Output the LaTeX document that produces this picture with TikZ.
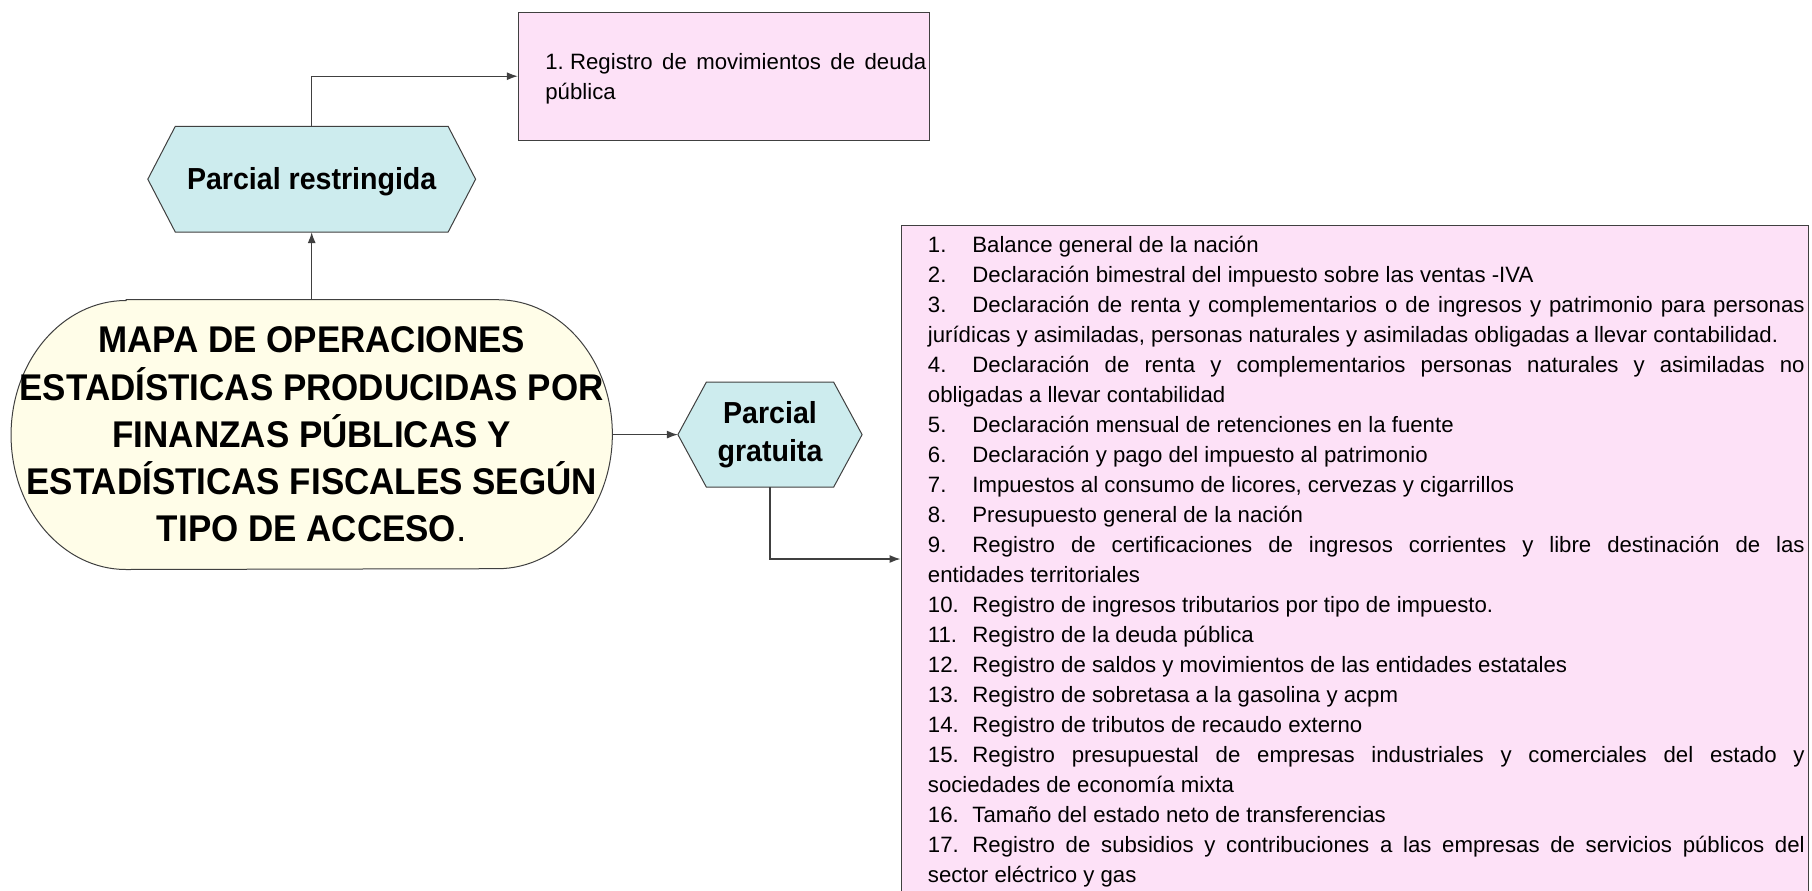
\documentclass[tikz,border=0pt]{standalone}
\usepackage{fontspec}
\setmainfont{Liberation Sans}[BoldFeatures={FakeStretch=0.94}]
\usetikzlibrary{arrows.meta,backgrounds}
\definecolor{pinkfill}{HTML}{FDE1F7}
\definecolor{cyanfill}{HTML}{CDECEE}
\definecolor{creamfill}{HTML}{FFFDE8}
\definecolor{edgecol}{HTML}{404040}
\newcommand\lbl[1]{\makebox[22.25pt][l]{#1}}
\newcommand\listsetup{\fontsize{11.1pt}{15pt}\selectfont
  \parindent=0pt \parskip=0pt \hyphenpenalty=10000 \exhyphenpenalty=10000
  \tolerance=10000 \emergencystretch=20pt\relax}
\newcommand\firststrut{\rule{0pt}{12pt}}
\begin{document}
\begin{tikzpicture}[x=0.5pt,y=-0.5pt,
  conn/.style={draw=edgecol, line width=0.6pt, -{Latex[length=5.5pt,width=4pt]}},
  pinkbox/.style={draw=edgecol, fill=pinkfill, line width=0.5pt, inner sep=0pt},
  hexnode/.style={inner sep=0pt, align=center, font=\fontsize{15.2pt}{18.7pt}\selectfont\bfseries},
  hexshape/.style={draw=edgecol, fill=cyanfill, line width=0.5pt},
  mainshape/.style={draw=edgecol, fill=creamfill, line width=0.5pt},
  listtext/.style={anchor=north west, inner sep=0pt, align=justify, font=\listsetup},
]
\useasboundingbox (0,0) rectangle (1812,890);
\clip (0,0) rectangle (1812,890);

% main node
\node[inner sep=0pt, minimum width=300.25pt, minimum height=134.5pt, align=center,
      font=\fontsize{18.6pt}{23.625pt}\selectfont\bfseries] (main) at (311.7,434.6)
  {MAPA DE OPERACIONES\\ESTADÍSTICAS PRODUCIDAS POR\\FINANZAS PÚBLICAS Y\\ESTADÍSTICAS FISCALES SEGÚN\\TIPO DE ACCESO{\mdseries .}};

% hexagon nodes
\node[hexnode, minimum width=163.5pt, minimum height=52.5pt, text height=11.5pt, text depth=1.2pt] (rest) at (311.7,179.2) {Parcial restringida};
\node[hexnode, minimum width=91.7pt, minimum height=52pt] (grat) at (770,434.6) {Parcial\\gratuita};

% pink boxes
\node[pinkbox, minimum width=205.5pt, minimum height=63.85pt] (topbox) at (723.8,76.2) {};
\node[pinkbox, minimum width=453.65pt, minimum height=334pt] (bigbox) at (1354.65,559) {};

\node[listtext, text width=190.5pt] (toptext) at (545,45)
  {\firststrut 1.\hspace{3.1pt}Registro de movimientos de deuda\linebreak pública};

\node[listtext, text width=438.4pt] (list) at (927.5,227.7) {%
\firststrut\lbl{1.}Balance general de la nación\par
\lbl{2.}Declaración bimestral del impuesto sobre las ventas -IVA\par
\lbl{3.}Declaración de renta y complementarios o de ingresos y patrimonio para personas\linebreak jurídicas y asimiladas, personas naturales y asimiladas obligadas a llevar contabilidad.\par
\lbl{4.}Declaración de renta y complementarios personas naturales y asimiladas no\linebreak obligadas a llevar contabilidad\par
\lbl{5.}Declaración mensual de retenciones en la fuente\par
\lbl{6.}Declaración y pago del impuesto al patrimonio\par
\lbl{7.}Impuestos al consumo de licores, cervezas y cigarrillos\par
\lbl{8.}Presupuesto general de la nación\par
\lbl{9.}Registro de certificaciones de ingresos corrientes y libre destinación de las\linebreak entidades territoriales\par
\lbl{10.}Registro de ingresos tributarios por tipo de impuesto.\par
\lbl{11.}Registro de la deuda pública\par
\lbl{12.}Registro de saldos y movimientos de las entidades estatales\par
\lbl{13.}Registro de sobretasa a la gasolina y acpm\par
\lbl{14.}Registro de tributos de recaudo externo\par
\lbl{15.}Registro presupuestal de empresas industriales y comerciales del estado y\linebreak sociedades de economía mixta\par
\lbl{16.}Tamaño del estado neto de transferencias\par
\lbl{17.}Registro de subsidios y contribuciones a las empresas de servicios públicos del\linebreak sector eléctrico y gas};

% shapes behind the nodes
\begin{scope}[on background layer]
\path[mainshape] ([xshift=57.5pt]main.north west) -- ([xshift=-57.5pt]main.north east)
  arc[start angle=90, end angle=-90, x radius=57.5pt, y radius=67.25pt]
  -- ([xshift=57.5pt]main.south west)
  arc[start angle=270, end angle=90, x radius=57.5pt, y radius=67.25pt] -- cycle;
\path[hexshape] (rest.west) -- ([xshift=13.75pt]rest.north west) -- ([xshift=-13.75pt]rest.north east)
  -- (rest.east) -- ([xshift=-13.75pt]rest.south east) -- ([xshift=13.75pt]rest.south west) -- cycle;
\path[hexshape] (grat.west) -- ([xshift=14.2pt]grat.north west) -- ([xshift=-14.2pt]grat.north east)
  -- (grat.east) -- ([xshift=-14.2pt]grat.south east) -- ([xshift=14.2pt]grat.south west) -- cycle;
\end{scope}

% connectors
\draw[conn] (main.north) -- (rest.south);
\draw[conn] (rest.north) |- (topbox.west);
\draw[conn] (main.east) -- (grat.west);
\draw[conn] (grat.south) |- (bigbox.west);
\end{tikzpicture}
\end{document}
